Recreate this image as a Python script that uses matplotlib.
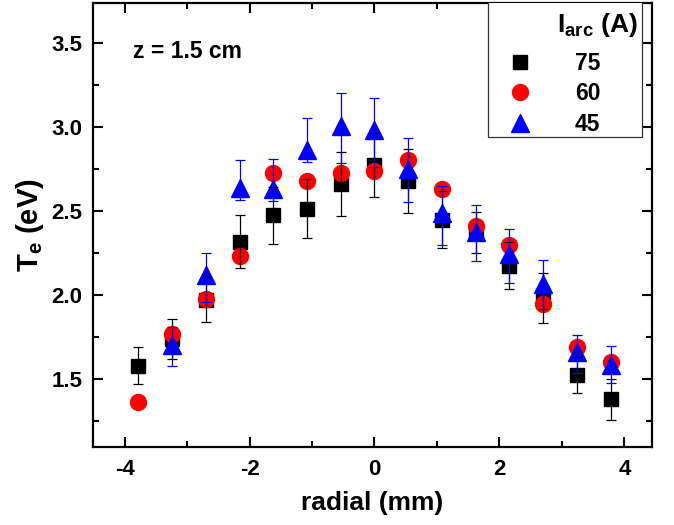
import matplotlib
matplotlib.use("Agg")
import matplotlib.pyplot as plt
import matplotlib.patches as mpatches
from matplotlib.ticker import MultipleLocator, FormatStrFormatter

plt.rcParams['font.family'] = ['Liberation Sans', 'DejaVu Sans']
plt.rcParams['font.weight'] = 'bold'
plt.rcParams['axes.unicode_minus'] = False
plt.rcParams['mathtext.fontset'] = 'custom'
plt.rcParams['mathtext.rm'] = 'Liberation Sans:bold'
plt.rcParams['mathtext.bf'] = 'Liberation Sans:bold'
plt.rcParams['mathtext.it'] = 'Liberation Sans:bold'

# radial positions (mm)
radial = [-3.78, -3.24, -2.70, -2.16, -1.62, -1.08, -0.54, 0.00,
          0.54, 1.08, 1.62, 2.16, 2.70, 3.24, 3.78]
radial_45 = radial[1:]

# electron temperature (eV) for each arc current
te_75 = [1.58, 1.74, 1.975, 2.32, 2.476, 2.516, 2.662, 2.777,
         2.678, 2.45, 2.373, 2.177, 1.985, 1.524, 1.381]
err_75 = [0.11, 0.12, 0.135, 0.16, 0.17, 0.175, 0.19, 0.19,
          0.19, 0.17, 0.12, 0.14, 0.15, 0.107, 0.12]

te_60 = [1.367, 1.771, 1.979, 2.232, 2.727, 2.678, 2.727, 2.737,
         2.807, 2.635, 2.411, 2.302, 1.95, 1.692, 1.605]

te_45 = [1.706, 2.12, 2.636, 2.63, 2.864, 3.005, 2.983,
         2.753, 2.488, 2.377, 2.246, 2.07, 1.666, 1.587]
err_45_lo = [0.127, 0.16, 0.07, 0.07, 0.07, 0.22, 0.22,
             0.20, 0.19, 0.17, 0.17, 0.15, 0.13, 0.11]
err_45_hi = [0.107, 0.13, 0.17, 0.18, 0.19, 0.20, 0.19,
             0.18, 0.16, 0.16, 0.15, 0.14, 0.10, 0.11]

currents = ['75', '60', '45']

fig = plt.figure(figsize=(6.74, 5.25), dpi=100)
ax = fig.add_axes([0.1384, 0.1491, 0.8289, 0.8457])

# markers
h75, = ax.plot(radial, te_75, ls='none', marker='s', ms=10, color='black',
               mec='black', zorder=3)
h60, = ax.plot(radial, te_60, ls='none', marker='o', ms=11.5, color='red',
               mec='red', zorder=4)
h45, = ax.plot(radial_45, te_45, ls='none', marker='^', ms=13, color='blue',
               mec='blue', zorder=5)

# error bars drawn above the markers
ax.errorbar(radial, te_75, yerr=err_75, fmt='none', ecolor='black',
            elinewidth=0.9, capsize=3.5, capthick=0.9, zorder=6)
ax.errorbar(radial_45, te_45, yerr=[err_45_lo, err_45_hi], fmt='none',
            ecolor='blue', elinewidth=0.9, capsize=3.5, capthick=0.9, zorder=7)

ax.set_xlim(-4.5, 4.44)
ax.set_ylim(1.1, 3.74)

ax.xaxis.set_major_locator(MultipleLocator(2))
ax.xaxis.set_minor_locator(MultipleLocator(1))
ax.yaxis.set_major_locator(MultipleLocator(0.5))
ax.yaxis.set_minor_locator(MultipleLocator(0.25))
ax.yaxis.set_major_formatter(FormatStrFormatter('%.1f'))

for s in ax.spines.values():
    s.set_linewidth(1.6)
ax.tick_params(which='both', direction='in', top=True, right=True, width=1.5)
ax.tick_params(which='major', length=7)
ax.tick_params(which='minor', length=4)
ax.tick_params(axis='y', which='major', labelsize=16, pad=8)
ax.tick_params(axis='x', which='major', labelsize=16, pad=9)
for lab in ax.get_xticklabels() + ax.get_yticklabels():
    lab.set_fontweight('bold')

ax.set_xlabel('radial (mm)', fontsize=19, fontweight='bold', labelpad=8)
ax.set_ylabel(r'$\mathbf{T}_{\mathbf{e}}$ (eV)', fontsize=21, fontweight='bold',
              labelpad=4)

ax.text(0.071, 0.8896, 'z = 1.5 cm', transform=ax.transAxes, ha='left',
        va='center', fontsize=16.5, fontweight='bold')

# legend box
box = mpatches.Rectangle((0.706, 0.698), 0.2766, 0.31, transform=ax.transAxes,
                         facecolor='white', edgecolor='#333333', lw=0.9,
                         zorder=8, clip_on=True)
ax.add_patch(box)
ax.text(0.9015, 0.9498, r'$\mathbf{I}_{\mathbf{arc}}$ (A)', transform=ax.transAxes,
        ha='center', va='center', fontsize=19, fontweight='bold', zorder=9)
leg = ax.legend([h75, h60, h45], currents, loc='upper left',
                bbox_to_anchor=(0.744, 0.890), frameon=False, borderpad=0,
                borderaxespad=0, handlelength=1.0, handletextpad=1.88,
                labelspacing=0.34, prop={'size': 16.5, 'weight': 'bold'})
leg.set_zorder(10)

fig.savefig('out.png', dpi=100)
